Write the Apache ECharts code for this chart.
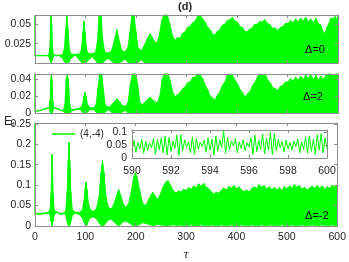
<!DOCTYPE html>
<html><head><meta charset="utf-8">
<script src="https://cdn.jsdelivr.net/npm/echarts@6/dist/echarts.min.js"></script>
<style>html,body{margin:0;padding:0;background:#fff}#c{width:349px;height:262px}</style>
</head><body><div id="c"></div>
<script>
// Envelope rows: [tau, upper, lower]
const envD0 = [[0,0.07,0.009],[0.8,0.0098,0.0092],[15,0.0099,0.0093],[27,0.0101,0.0094],[29.5,0.020,0.004],[31,0.050,0.001],[32,0.070,0],[33,0.050,0.001],[34.5,0.020,0.004],[37,0.0103,0.0095],[48,0.0100,0.0092],[55,0.0110,0.006],[58,0.018,0.002],[61,0.045,0],[63,0.070,0],[65,0.045,0],[68,0.018,0.002],[71,0.0115,0.006],[80,0.0112,0.0100],[88,0.0115,0.004],[92,0.018,0.001],[95,0.040,0],[97,0.054,0],[99,0.040,0],[102,0.018,0.001],[106,0.012,0.004],[114,0.012,0.008],[120,0.014,0.003],[124,0.030,0],[127,0.060,0],[129,0.070,0],[131,0.060,0],[134,0.030,0],[138,0.014,0.003],[146,0.013,0.006],[152,0.016,0.002],[157,0.028,0],[162,0.043,0],[167,0.028,0],[172,0.016,0.002],[178,0.014,0.005],[184,0.020,0.001],[188,0.040,0],[192,0.068,0],[196,0.068,0],[200,0.040,0],[204,0.020,0.001],[210,0.016,0.004],[216,0.022,0.001],[222,0.031,0],[228,0.038,0],[234,0.031,0],[240,0.025,0],[246,0.035,0],[251,0.055,0],[255,0.068,0],[262,0.068,0],[267,0.050,0],[272,0.036,0],[277,0.029,0],
[282,0.033,0],[287,0.032,0],[292,0.038,0],[297,0.040,0],[302,0.046,0],[307,0.047,0],[312,0.052,0],[317,0.054,0],[322,0.060,0],[327,0.062,0],[332,0.057,0],[337,0.053,0],[342,0.046,0],[347,0.043,0],[352,0.037,0],[356,0.036,0],[361,0.041,0],[366,0.043,0],[371,0.049,0],[376,0.050,0],[381,0.055,0],[386,0.056,0],[391,0.059,0],[396,0.054,0],[401,0.053,0],[406,0.047,0],[411,0.046,0],[416,0.041,0],[420,0.040,0],[425,0.044,0],[430,0.045,0],[435,0.050,0],[440,0.050,0],[445,0.054,0],[450,0.053,0],[455,0.056,0],[460,0.051,0],[465,0.050,0],[470,0.045,0],[476,0.045,0],[481,0.042,0],[486,0.046,0],[491,0.047,0],[496,0.051,0],[501,0.051,0],[506,0.055,0],[511,0.052,0],[516,0.057,0],[521,0.053,0],[526,0.058,0],[531,0.054,0],[536,0.059,0],[541,0.053,0],[546,0.057,0],[551,0.052,0],[556,0.058,0],[561,0.051,0],[566,0.049,0],[570,0.041,0],[574,0.038,0],[578,0.046,0],[582,0.051,0],[586,0.058,0],[590,0.057,0],[594,0.060,0],[597,0.056,0],[600,0.061,0]];

const envD2 = [[0,0.055,0.0010],[0.8,0.0020,0.0014],[10,0.0035,0.0029],[20,0.0052,0.0046],[28,0.0068,0.0060],[30,0.015,0.002],[31.5,0.040,0],[32.5,0.055,0],[33.5,0.040,0],[35,0.015,0.002],[37,0.0070,0.0062],[46,0.0050,0.0043],[56,0.0028,0.0020],[59,0.010,0],[62,0.040,0],[64,0.055,0],[66,0.040,0],[69,0.010,0],[72,0.0035,0.0025],[82,0.0050,0.0042],[90,0.0060,0.0040],[94,0.010,0.001],[97,0.020,0],[99,0.025,0],[101,0.020,0],[104,0.010,0.001],[108,0.0065,0.004],[116,0.0060,0.004],[121,0.010,0.001],[125,0.030,0],[128,0.052,0],[132,0.052,0],[135,0.030,0],[139,0.010,0.001],[145,0.007,0.004],[151,0.009,0.001],[156,0.013,0],[162,0.017,0],[168,0.013,0],[173,0.009,0.001],[179,0.008,0.003],[184,0.012,0],[189,0.035,0],[193,0.055,0],[199,0.055,0],[203,0.035,0],[208,0.012,0],[213,0.010,0.001],[219,0.014,0],[228,0.019,0],[236,0.014,0],[242,0.012,0],[247,0.020,0],[252,0.040,0],[256,0.055,0],[264,0.055,0],[268,0.038,0],[273,0.024,0],[278,0.019,0],
[282,0.022,0],[287,0.024,0],[292,0.029,0],[297,0.031,0],[302,0.036,0],[307,0.037,0],[312,0.042,0],[317,0.043,0],[322,0.047,0],[327,0.046,0],[332,0.041,0],[337,0.033,0],[342,0.028,0],[347,0.020,0],[352,0.018,0],[356,0.015,0],[361,0.021,0],[366,0.025,0],[371,0.033,0],[376,0.037,0],[381,0.045,0],[386,0.047,0],[391,0.046,0],[396,0.039,0],[401,0.035,0],[406,0.028,0],[411,0.024,0],[416,0.019,0],[421,0.023,0],[426,0.026,0],[431,0.033,0],[436,0.037,0],[441,0.044,0],[446,0.047,0],[451,0.045,0],[456,0.046,0],[461,0.039,0],[466,0.036,0],[471,0.030,0],[476,0.029,0],[481,0.027,0],[486,0.032,0],[491,0.033,0],[496,0.037,0],[501,0.037,0],[506,0.041,0],[511,0.038,0],[516,0.043,0],[521,0.039,0],[526,0.044,0],[531,0.040,0],[536,0.045,0],[541,0.041,0],[546,0.046,0],[551,0.040,0],[556,0.045,0],[561,0.039,0],[566,0.044,0],[571,0.040,0],[576,0.045,0],[581,0.047,0],[586,0.048,0],[591,0.044,0],[596,0.048,0],[600,0.047,0]];

const envDm2 = [[0,0.26,0.029],[0.8,0.031,0.029],[10,0.031,0.029],[20,0.032,0.030],[27,0.034,0.032],[30,0.040,0.026],[32,0.080,0.012],[34,0.176,0],[36,0.080,0.012],[38,0.040,0.026],[42,0.035,0.033],[50,0.031,0.029],[58,0.032,0.030],[61,0.038,0.026],[64,0.085,0.010],[66,0.160,0.002],[67.5,0.205,0],[69,0.160,0.002],[71,0.085,0.010],[74,0.040,0.026],[80,0.034,0.031],[88,0.033,0.028],[94,0.040,0.020],[97,0.060,0.010],[100,0.095,0.002],[101,0.107,0],[103,0.090,0.003],[106,0.055,0.012],[110,0.040,0.020],[116,0.036,0.022],[122,0.042,0.018],[127,0.070,0.008],[131,0.130,0.002],[134,0.161,0],[137,0.130,0.002],[141,0.070,0.008],[146,0.045,0.015],[152,0.042,0.016],[157,0.055,0.010],[162,0.075,0.004],[166,0.089,0],[170,0.075,0.004],[175,0.055,0.010],[180,0.045,0.012],[186,0.055,0.008],[192,0.090,0.003],[196,0.120,0],[199,0.130,0],[203,0.118,0.001],[208,0.085,0.004],[214,0.055,0.008],[220,0.050,0.006],[226,0.065,0.004],[231,0.078,0.002],[234,0.082,0.001],[238,0.075,0.002],[243,0.065,0.004],[248,0.075,0.003],[254,0.095,0.002],[260,0.108,0.001],[264,0.111,0.001],[269,0.100,0.002],[275,0.085,0.003],
[280,0.080,0.002],[285,0.086,0.001],[290,0.083,0.003],[295,0.090,0.001],[300,0.087,0.002],[305,0.094,0.001],[310,0.090,0.003],[315,0.098,0.001],[320,0.094,0.002],[325,0.103,0.001],[330,0.098,0.003],[335,0.104,0.001],[340,0.095,0.002],[345,0.091,0.001],[350,0.084,0.003],[355,0.078,0.001],[360,0.083,0.002],[365,0.080,0.001],[370,0.088,0.003],[375,0.093,0.001],[380,0.088,0.002],[385,0.097,0.001],[390,0.093,0.003],[395,0.099,0.001],[400,0.091,0.002],[405,0.096,0.001],[410,0.088,0.003],[415,0.084,0.001],[420,0.088,0.002],[425,0.083,0.001],[430,0.091,0.003],[435,0.096,0.001],[440,0.092,0.002],[445,0.101,0.001],[450,0.095,0.003],[455,0.099,0.001],[460,0.091,0.002],[465,0.096,0.001],[470,0.089,0.003],[475,0.094,0.001],[480,0.088,0.002],[485,0.094,0.001],[490,0.087,0.003],[495,0.096,0.001],[500,0.091,0.002],[505,0.098,0.001],[510,0.093,0.003],[515,0.101,0.001],[520,0.095,0.002],[525,0.099,0.001],[530,0.090,0.003],[535,0.095,0.001],[540,0.088,0.002],[545,0.093,0.001],[550,0.097,0.003],[555,0.092,0.001],[560,0.099,0.002],[565,0.093,0.001],[570,0.098,0.003],[575,0.090,0.001],[580,0.096,0.002],[585,0.092,0.001],[590,0.100,0.003],[595,0.095,0.001],[600,0.101,0.002]];

// Inset: tau 590..600 sampled every 0.1
const insetStart = 590, insetStep = 0.1;
const insetVals = [0.030,0.068,0.022,0.060,0.035,0.072,0.018,0.065,0.028,0.058,
0.040,0.075,0.015,0.070,0.032,0.078,0.020,0.085,0.012,0.080,
0.025,0.066,0.038,0.088,0.010,0.090,0.028,0.070,0.042,0.062,
0.020,0.082,0.015,0.075,0.035,0.060,0.045,0.068,0.022,0.078,
0.030,0.072,0.012,0.085,0.026,0.070,0.040,0.105,0.018,0.080,
0.032,0.066,0.046,0.074,0.020,0.062,0.036,0.070,0.028,0.058,
0.042,0.078,0.014,0.088,0.024,0.068,0.034,0.092,0.016,0.076,
0.030,0.098,0.012,0.094,0.028,0.072,0.040,0.064,0.022,0.070,
0.036,0.060,0.030,0.066,0.044,0.074,0.020,0.062,0.034,0.080,
0.018,0.086,0.026,0.072,0.014,0.090,0.030,0.094,0.020,0.078,
0.036];

const panelLabels = ['\u0394=0','\u0394=2','\u0394=-2'];
const legendName = '(4,-4)';

const GREEN = '#00ff00', AX = '#8c8c8c', TXT = '#262626';
const FONT = '"Liberation Sans", Arial, Helvetica, sans-serif';

const chart = echarts.init(document.getElementById('c'), null, {renderer:'canvas'});

const grids = [
  {left:35, top:15, width:303, height:48},
  {left:35, top:74, width:303, height:39},
  {left:35, top:123, width:303, height:110},
  {left:132, top:130, width:195, height:28, show:true, backgroundColor:'#fff', borderWidth:0, z:10}
];
const yCfg = [
  {min:0, max:0.062, interval:0.025, hideMin:true},
  {min:0, max:0.0465, interval:0.02, hideMin:false},
  {min:0, max:0.252, interval:0.05, hideMin:false},
  {min:0, max:0.108, interval:0.05, hideMin:false}
];
const xCfg = [
  {min:0, max:600, interval:100, labels:false},
  {min:0, max:600, interval:100, labels:false},
  {min:0, max:600, interval:100, labels:true},
  {min:590, max:600, interval:2, labels:true}
];

const xAxis = [], yAxis = [];
grids.forEach((g, i) => {
  const z = i === 3 ? 12 : 3;
  ['bottom','top'].forEach(pos => {
    const ax = {
      type:'value', gridIndex:i, position:pos, min:xCfg[i].min, max:xCfg[i].max, interval:xCfg[i].interval, z:z,
      axisLine:{show:true, onZero:false, lineStyle:{color:AX, width:1}},
      axisTick:{show:true, inside:true, length:3, lineStyle:{color:AX}},
      splitLine:{show:false},
      axisLabel:{show: pos==='bottom' && xCfg[i].labels, color:TXT, fontSize:10.5, fontFamily:FONT, margin: i===3 ? 8 : 6}
    };
    if (i === 2 && pos === 'bottom') {
      Object.assign(ax, {name:'\u03c4', nameLocation:'middle', nameGap:24, nameTextStyle:{fontStyle:'italic', fontSize:11, color:TXT, fontFamily:'"DejaVu Serif", serif'}});
    }
    xAxis.push(ax);
  });
  ['left','right'].forEach(pos => {
    yAxis.push({
      type:'value', gridIndex:i, position:pos, min:yCfg[i].min, max:yCfg[i].max, interval:yCfg[i].interval, z:z,
      axisLine:{show:true, onZero:false, lineStyle:{color:AX, width:1}},
      axisTick:{show:true, inside:true, length:3, lineStyle:{color:AX}},
      splitLine:{show:false},
      axisLabel:{show: pos==='left', color:TXT, fontSize:10.5, fontFamily:FONT, margin: i===3 ? 5 : 4, showMaxLabel:false, showMinLabel: !yCfg[i].hideMin}
    });
  });
});

function bandItem(params, api) {
  const t0 = api.value(0), u0 = api.value(1), l0 = api.value(2);
  const t1 = api.value(3), u1 = api.value(4), l1 = api.value(5);
  const pts = [api.coord([t0, u0]), api.coord([t1, u1]), api.coord([t1, l1]), api.coord([t0, l0])];
  const cs = params.coordSys;
  const clipped = echarts.graphic.clipPointsByRect(pts, {x:cs.x, y:cs.y, width:cs.width, height:cs.height});
  return {type:'polygon', shape:{points:clipped}, style:{fill:GREEN, stroke:GREEN, lineWidth:0.9}, silent:true};
}

const envs = [envD0, envD2, envDm2];
const series = [];
envs.forEach((env, i) => {
  const segs = [];
  for (let k = 0; k < env.length - 1; k++) {
    segs.push([env[k][0], env[k][1], env[k][2], env[k+1][0], env[k+1][1], env[k+1][2]]);
  }
  series.push({
    type:'custom', name: i===2 ? legendName : 'panel'+i, xAxisIndex:i*2, yAxisIndex:i*2,
    renderItem: bandItem, data: segs, encode:{x:[0,3], y:[1,2,4,5]},
    itemStyle:{color:GREEN}, z:2, silent:true
  });
});
series.push({
  type:'line', name:'inset', xAxisIndex:6, yAxisIndex:6, symbol:'none', silent:true, z:11,
  data: insetVals.map((v, k) => [insetStart + k*insetStep, v]),
  lineStyle:{color:GREEN, width:1}
});

const option = {
  animation:false,
  backgroundColor:'#fff',
  grid: grids,
  xAxis, yAxis, series,
  legend:{data:[{name:legendName, icon:'rect'}], left:52, top:129, padding:0, itemWidth:23, itemHeight:1.5, itemGap:4, z:5,
    selectedMode:false, textStyle:{color:TXT, fontSize:10, fontFamily:FONT}, itemStyle:{color:GREEN}},
  graphic:[
    {type:'text', left:178, top:1, style:{text:'(d)', font:'bold 11px ' + FONT, fill:TXT}},
    {type:'text', left:305, top:44, z:20, style:{text:panelLabels[0], font:'11px ' + FONT, fill:'#000'}},
    {type:'text', left:303, top:91, z:20, style:{text:panelLabels[1], font:'11px ' + FONT, fill:'#000'}},
    {type:'text', left:305, top:210, z:20, style:{text:panelLabels[2], font:'11px ' + FONT, fill:'#000'}},
    {type:'text', left:4, top:116, style:{text:'{a|E}{b|f}', fill:TXT, rich:{a:{fontSize:12, fontFamily:FONT, fill:TXT}, b:{fontSize:8, fontFamily:FONT, fill:TXT, padding:[6,0,0,0]}}}}
  ]
};
chart.setOption(option);
</script>
</body></html>
